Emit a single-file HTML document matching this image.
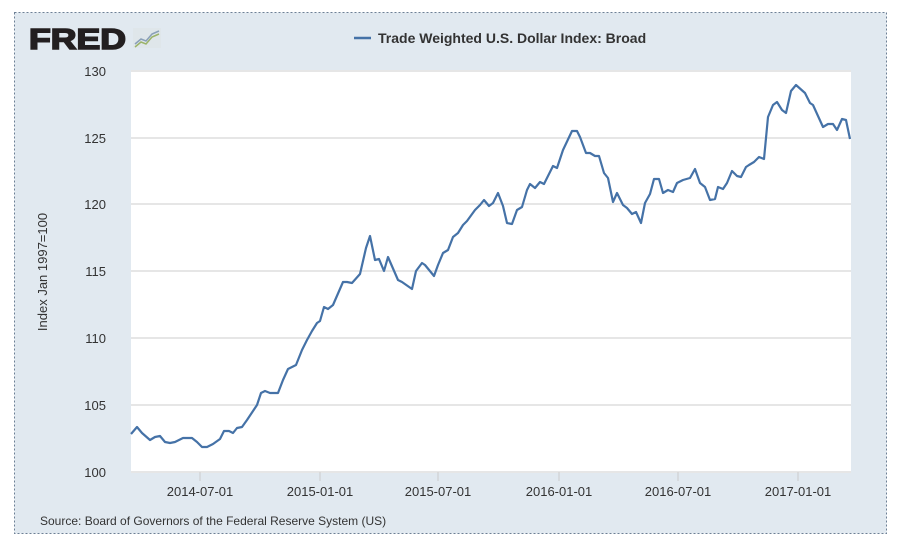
<!DOCTYPE html>
<html><head><style>
body{margin:0;background:#fff;width:903px;height:542px;overflow:hidden;font-family:"Liberation Sans",sans-serif}
</style></head><body>
<svg width="903" height="542" xmlns="http://www.w3.org/2000/svg" font-family="Liberation Sans, sans-serif">
<rect x="14.5" y="12.5" width="872" height="521" fill="#e1e9f0" stroke="#6d7f95" stroke-dasharray="2,2"/>
<text x="29" y="49" font-size="29" font-weight="bold" fill="#231f20" stroke="#231f20" stroke-width="1.6" textLength="97" lengthAdjust="spacingAndGlyphs">FRED</text>
<g transform="translate(133,28)"><rect width="28" height="20" fill="#dfe6ea"/><polyline points="2,16 8,11 13,13 19,6 26,3" fill="none" stroke="#8aa0b8" stroke-width="1.5"/><polyline points="2,19 8,14 13,16 19,9 26,6" fill="none" stroke="#9bb36a" stroke-width="1.5"/></g>
<line x1="354" y1="38" x2="371" y2="38" stroke="#4572a7" stroke-width="2.5"/>
<text x="378" y="43" font-size="14" font-weight="bold" fill="#333">Trade Weighted U.S. Dollar Index: Broad</text>
<rect x="131" y="70" width="720" height="403" fill="#fff"/>
<g stroke="#ccc" stroke-width="1">
<line x1="131" y1="71" x2="851" y2="71"/><line x1="131" y1="138" x2="851" y2="138"/><line x1="131" y1="204" x2="851" y2="204"/><line x1="131" y1="271" x2="851" y2="271"/><line x1="131" y1="338" x2="851" y2="338"/><line x1="131" y1="405" x2="851" y2="405"/><line x1="131" y1="472" x2="851" y2="472"/>
<line x1="200" y1="472" x2="200" y2="481"/><line x1="320" y1="472" x2="320" y2="481"/><line x1="438" y1="472" x2="438" y2="481"/><line x1="559" y1="472" x2="559" y2="481"/><line x1="678" y1="472" x2="678" y2="481"/><line x1="798" y1="472" x2="798" y2="481"/>
</g>
<g font-size="13" fill="#333" text-anchor="end">
<text x="106" y="76">130</text><text x="106" y="143">125</text><text x="106" y="209">120</text><text x="106" y="276">115</text><text x="106" y="343">110</text><text x="106" y="410">105</text><text x="106" y="477">100</text>
</g>
<g font-size="13" fill="#333" text-anchor="middle">
<text x="200" y="496">2014-07-01</text><text x="320" y="496">2015-01-01</text><text x="438" y="496">2015-07-01</text><text x="559" y="496">2016-01-01</text><text x="678" y="496">2016-07-01</text><text x="798" y="496">2017-01-01</text>
</g>
<text transform="translate(47,272) rotate(-90)" font-size="13" fill="#333" text-anchor="middle">Index Jan 1997=100</text>
<text x="40" y="525" font-size="12" fill="#333">Source: Board of Governors of the Federal Reserve System (US)</text>
<polyline fill="none" stroke="#4572a7" stroke-width="2.2" stroke-linejoin="round" points="131,434 137,427 142,433 150,440 155,437 160,436 165,442 170,443 175,442 183,438 192,438 197,442 202,447 207,447 213,444 220,439 224,431 229,431 233,433 237,428 242,427 247,420 253,411 257,405 261,393 265,391 270,393 278,393 283,380 288,369 296,365 302,350 307,340 312,331 317,323 320,321 324,307 328,309 333,305 343,282 347,282 352,283 360,274 366,248 370,236 375,260 379,259 384,271 388,257 398,280 402,282 412,289 416,271 422,263 425,265 434,276 438,265 443,253 448,250 453,237 458,233 463,225 467,221 475,210 480,205 484,200 489,206 493,203 498,193 503,206 507,223 512,224 517,210 522,207 527,190 530,184 535,188 540,182 544,184 553,166 557,168 563,150 572,131 577,131 580,137 586,153 590,153 595,156 599,156 604,173 608,178 613,202 617,193 623,205 627,208 632,214 636,212 641,223 645,203 650,194 654,179 659,179 663,193 668,190 673,192 677,183 683,180 690,178 695,169 700,183 705,187 710,200 715,199 718,187 723,189 727,183 732,171 737,176 741,177 746,167 749,165 754,162 759,157 764,159 768,117 773,105 777,102 782,110 786,113 791,91 796,85 805,93 810,103 813,105 823,127 828,124 833,124 837,130 842,119 846,120 850,139"/>
</svg>
</body></html>
